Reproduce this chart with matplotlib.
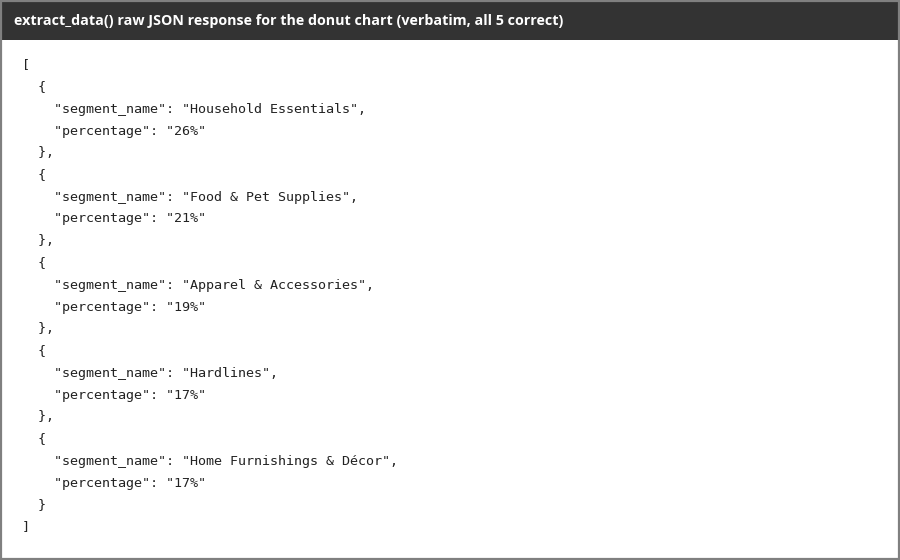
import json
import matplotlib
matplotlib.use("Agg")
import matplotlib.pyplot as plt
from matplotlib.patches import Rectangle

title = "extract_data() raw JSON response for the donut chart (verbatim, all 5 correct)"
segments = ["Household Essentials", "Food & Pet Supplies", "Apparel & Accessories",
            "Hardlines", "Home Furnishings & Décor"]
percentages = ["26%", "21%", "19%", "17%", "17%"]

records = [{"segment_name": s, "percentage": p} for s, p in zip(segments, percentages)]
lines = json.dumps(records, indent=2, ensure_ascii=False).split("\n")

W, H = 900, 560
fig = plt.figure(figsize=(W / 100, H / 100), dpi=100)
fig.patch.set_facecolor("white")

def fx(px):
    return px / W

def fy(py):
    return 1 - py / H

# header bar
fig.patches.append(Rectangle((0, fy(40)), 1, 40 / H, transform=fig.transFigure,
                             facecolor="#333333", edgecolor="none"))
fig.text(fx(14), fy(21), title, color="white", fontsize=10.3, fontweight="bold",
         family="Open Sans", va="center", ha="left")

# json body
for i, ln in enumerate(lines):
    fig.text(fx(22), fy(65 + 22 * i), ln, color="#222222", fontsize=9.6,
             family="DejaVu Sans Mono", va="center", ha="left")

# outer border
fig.patches.append(Rectangle((fx(1), fy(559)), fx(898), 558 / H, transform=fig.transFigure,
                             facecolor="none", edgecolor="#808080", linewidth=1.6))

fig.savefig("out.png", dpi=100)
